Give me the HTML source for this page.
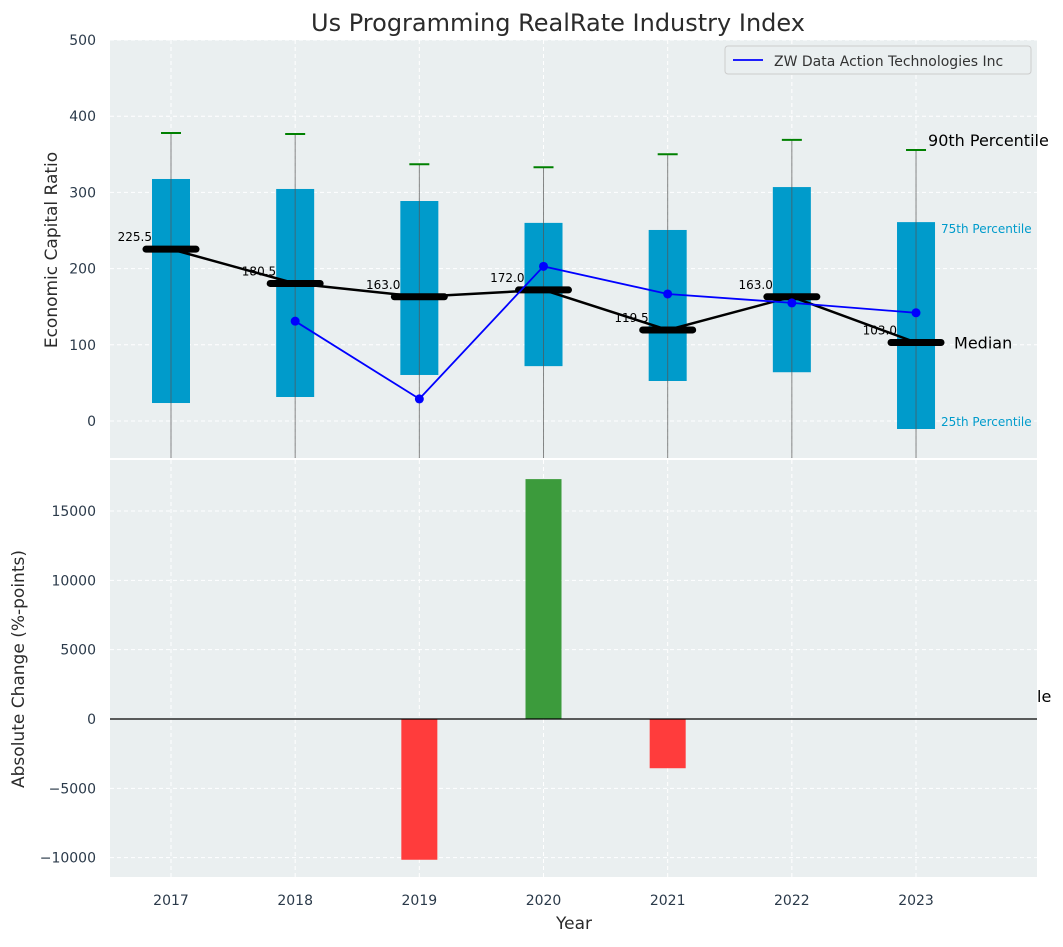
<!DOCTYPE html>
<html><head><meta charset="utf-8"><style>
body{margin:0;background:#fff;font-family:"Liberation Sans","DejaVu Sans",sans-serif}
svg text{font-family:"DejaVu Sans","Liberation Sans",sans-serif}
</style></head><body>
<svg id="c" width="1063" height="942" xmlns="http://www.w3.org/2000/svg"></svg>
<script>
const years=[2017,2018,2019,2020,2021,2022,2023];
const p25=[23.6,31.5,60.4,72,52.5,64,-10.5];
const p75=[317.6,304.5,288.7,260,250.7,307,261];
const p90=[378,376.6,337,333,350,369,355.6];
const medians=[225.5,180.5,163,172,119.5,163,103];
const company=[null,131,29,203,166.7,155,142];
const changes=[0,0,-10150,17300,-3550,0,0];
const topTicks=[0,100,200,300,400,500];
const botTicks=[-10000,-5000,0,5000,10000,15000];
const NS="http://www.w3.org/2000/svg";
const svg=document.getElementById('c');
function el(t,a,p){const e=document.createElementNS(NS,t);for(const k in a)e.setAttribute(k,a[k]);(p||svg).appendChild(e);return e;}
const L=110,R=1037;
const x=i=>171+i*124.17;
const yT=v=>421-v*0.762;
const yB=v=>719-v*0.013867;
// backgrounds
let bg=el('rect',{x:L,y:40,width:R-L,height:418,fill:'#eaeff0'});

let bg2=el('rect',{x:L,y:460,width:R-L,height:417,fill:'#eaeff0'});

// grids
years.forEach((yr,i)=>{
 el('line',{x1:x(i),x2:x(i),y1:40,y2:458,stroke:'#fff','stroke-dasharray':'4,3'});
 el('line',{x1:x(i),x2:x(i),y1:460,y2:877,stroke:'#fff','stroke-dasharray':'4,3'});
 let t=el('text',{x:x(i),y:905,'font-size':14,fill:'#2b3a4a','text-anchor':'middle'});t.textContent=yr;
 
});
topTicks.forEach(v=>{
 el('line',{x1:L,x2:R,y1:yT(v),y2:yT(v),stroke:'#fff','stroke-dasharray':'4,3'});
 let t=el('text',{x:96,y:yT(v)+5,'font-size':14,fill:'#2b3a4a','text-anchor':'end'});t.textContent=v;
 
});
botTicks.forEach(v=>{
 el('line',{x1:L,x2:R,y1:yB(v),y2:yB(v),stroke:'#fff','stroke-dasharray':'4,3'});
 let t=el('text',{x:96,y:yB(v)+5,'font-size':14,fill:'#2b3a4a','text-anchor':'end'});t.textContent=v<0?'\u2212'+(-v):v;
 
});
// boxes
years.forEach((yr,i)=>{
 let b=el('rect',{x:x(i)-19,y:yT(p75[i]),width:38,height:yT(p25[i])-yT(p75[i]),fill:'#009bcb'});
 
 let w=el('line',{x1:x(i),x2:x(i),y1:yT(p90[i]),y2:458,stroke:'#555','stroke-width':1,opacity:0.7});
 
 let c=el('line',{x1:x(i)-10,x2:x(i)+10,y1:yT(p90[i]),y2:yT(p90[i]),stroke:'green','stroke-width':2});
 
 let t=el('text',{x:x(i)-19,y:yT(medians[i])-8,'font-size':12,fill:'#000','text-anchor':'end'});t.textContent=medians[i].toFixed(1);
 
});
// median trend
let mp=el('polyline',{points:years.map((y,i)=>x(i)+','+yT(medians[i])).join(' '),fill:'none',stroke:'#000','stroke-width':2.5});

years.forEach((yr,i)=>{
 let m=el('line',{x1:x(i)-25,x2:x(i)+25,y1:yT(medians[i]),y2:yT(medians[i]),stroke:'#000','stroke-width':7,'stroke-linecap':'round'});
 
});
// company line
let pts=[];company.forEach((v,i)=>{if(v!==null)pts.push(x(i)+','+yT(v));});
let cl=el('polyline',{points:pts.join(' '),fill:'none',stroke:'blue','stroke-width':1.8});

company.forEach((v,i)=>{if(v===null)return;
 let d=el('circle',{cx:x(i),cy:yT(v),r:4.5,fill:'blue'});
 });
// annotations
const n=years.length-1;
[[x(n)+12,yT(p90[n])-4,'90th Percentile',16,'#000'],[x(n)+25,yT(p75[n])+11,'75th Percentile',12,'#009bcb'],[x(n)+25,yT(p25[n])-3,'25th Percentile',12,'#009bcb'],[x(n)+38,yT(medians[n])+6,'Median',16,'#000']].forEach(a=>{
 let t=el('text',{x:a[0],y:a[1],'font-size':a[3],fill:a[4]});t.textContent=a[2];
 });
// legend
let lg=el('g',{});
el('rect',{x:725,y:46,width:306,height:28,rx:3,fill:'#eaeff0',stroke:'#ccc'},lg);
el('line',{x1:733,x2:763,y1:60,y2:60,stroke:'blue','stroke-width':1.8},lg);
let lt=el('text',{x:774,y:66,'font-size':14,fill:'#333'},lg);lt.textContent='ZW Data Action Technologies Inc';
// bottom bars
changes.forEach((v,i)=>{if(v===0)return;
 let b=el('rect',{x:x(i)-18,y:Math.min(yB(0),yB(v)),width:36,height:Math.abs(yB(v)-yB(0)),fill:v>0?'#3c9b3c':'#ff3c3c'});
 });
el('line',{x1:L,x2:R,y1:yB(0),y2:yB(0),stroke:'#000','stroke-width':1.2});
let le=el('text',{x:1037,y:702,'font-size':16,fill:'#000'});le.textContent='le';

// titles
let ti=el('text',{x:558,y:31,'font-size':24,fill:'#2b2b2b','text-anchor':'middle'});ti.textContent='Us Programming RealRate Industry Index';

let xt=el('text',{x:574,y:929,'font-size':17,fill:'#2b2b2b','text-anchor':'middle'});xt.textContent='Year';

let y1=el('text',{x:0,y:0,'font-size':17,fill:'#2b2b2b','text-anchor':'middle',transform:'translate(57,250) rotate(-90)'});y1.textContent='Economic Capital Ratio';

let y2=el('text',{x:0,y:0,'font-size':17,fill:'#2b2b2b','text-anchor':'middle',transform:'translate(24,669) rotate(-90)'});y2.textContent='Absolute Change (%-points)';

</script>
</body></html>
